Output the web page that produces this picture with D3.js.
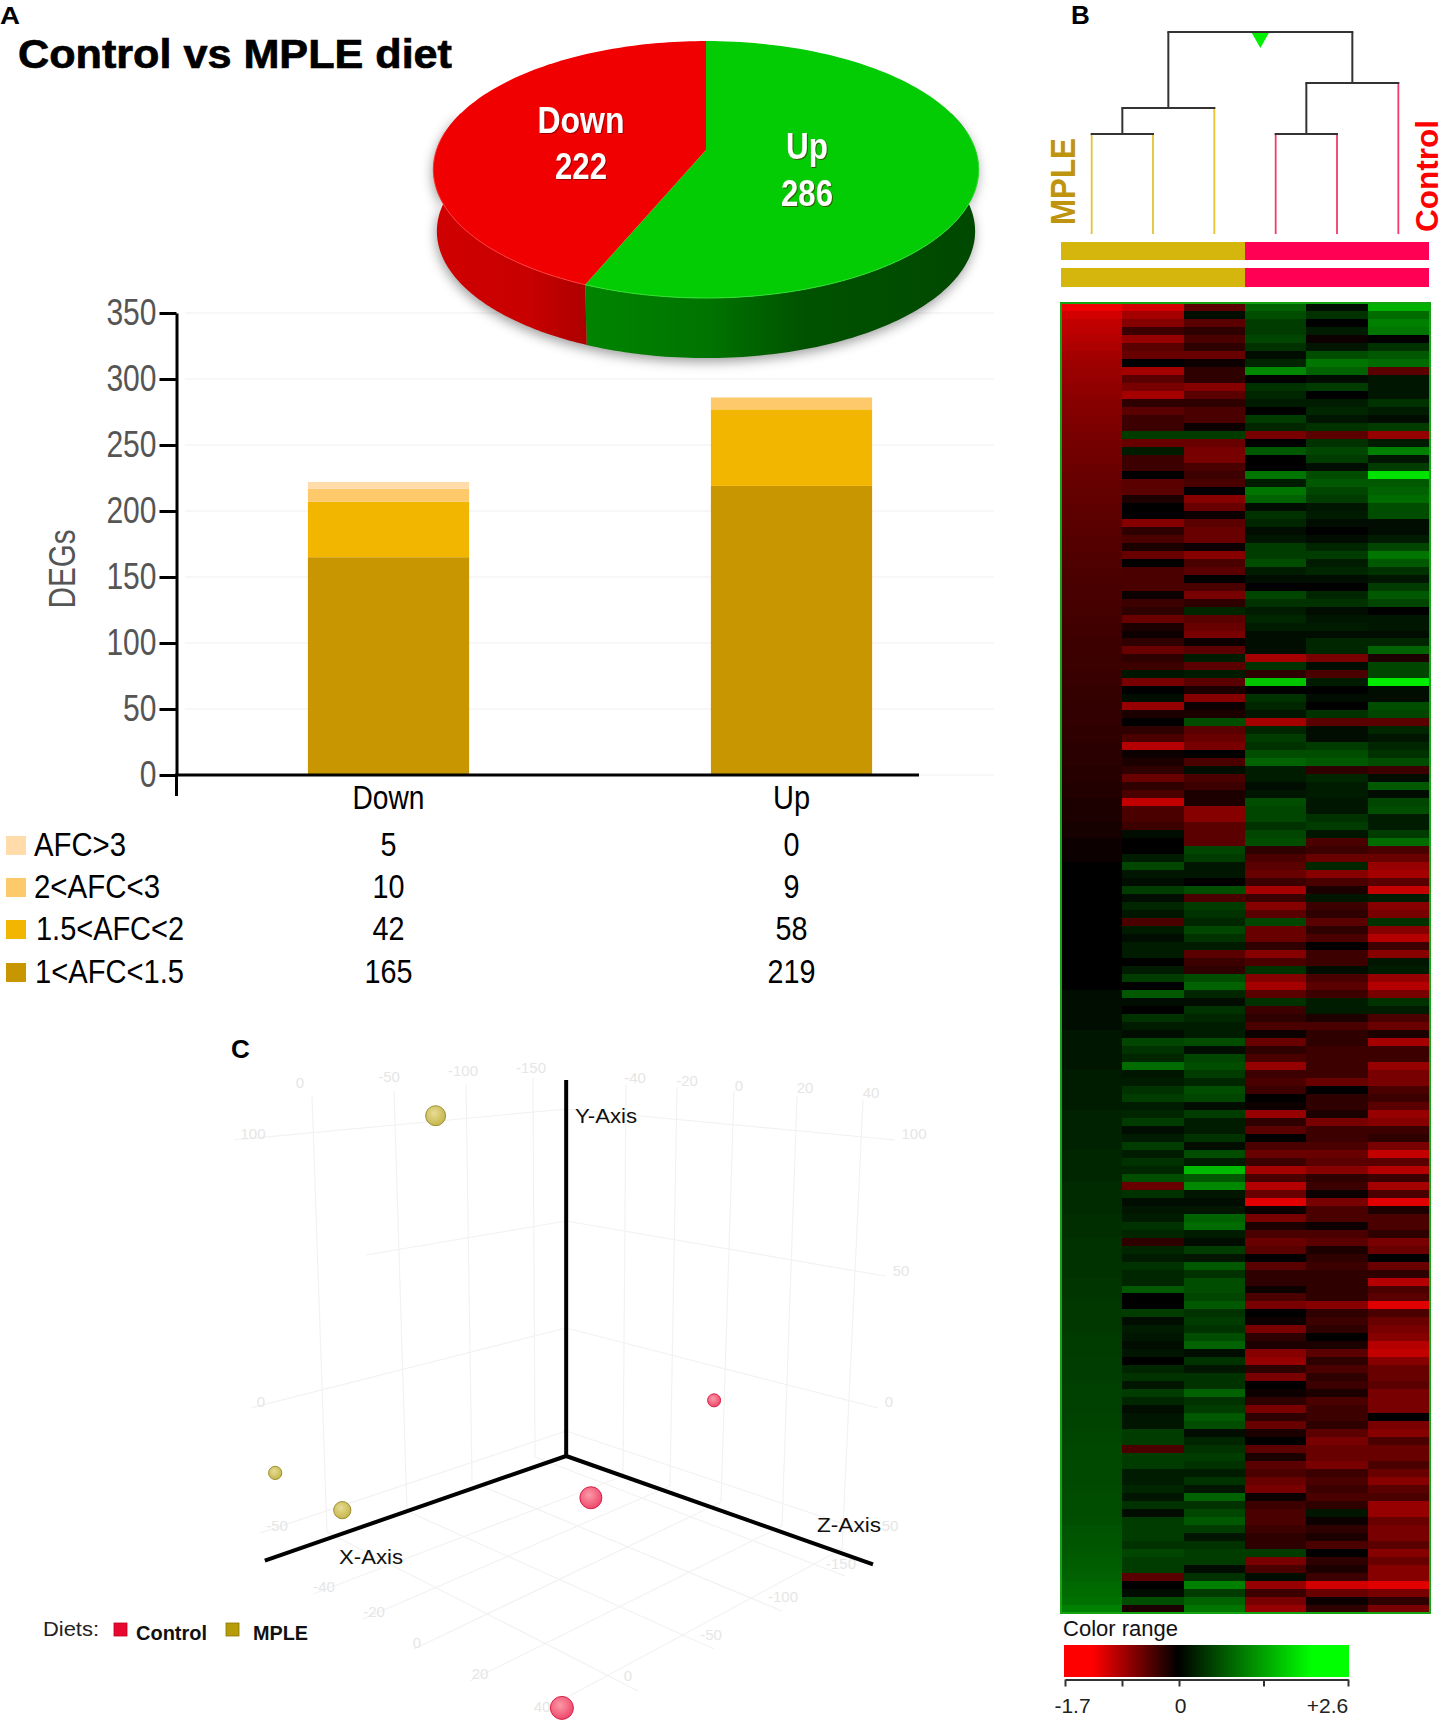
<!DOCTYPE html>
<html><head><meta charset="utf-8">
<style>html,body{margin:0;padding:0;background:#fff}svg{display:block}text{font-family:"Liberation Sans",Arial,sans-serif}</style>
<script src="https://cdn.jsdelivr.net/npm/d3@7"></script>
</head><body><svg id="c" width="1445" height="1727"></svg>
<script>
// ---------- Panel A data ----------
const pieLabels=["Up","Down"];
const pieValues=[286,222];
const barCategories=["Down","Up"];
const afcClasses=["1<AFC<1.5","1.5<AFC<2","2<AFC<3","AFC>3"];
const afcDown=[165,42,10,5];
const afcUp=[219,58,9,0];
const afcColors=["#c89600","#f2b500","#fdc96b","#ffdcaa"];
const yTickValues=[0,50,100,150,200,250,300,350];
// ---------- Panel B data (heat values, tenths of log ratio; red negative, green positive) ----------
const sampleNames=["M1","M2","M3","C1","C2","C3"];
const sampleGroups=["MPLE","MPLE","MPLE","Control","Control","Control"];
const mergeA=[0,6,3,8,7];
const mergeB=[1,2,4,5,9];
const mergeHeight=[.495,.624,.495,.748,1];
const heatM1=[-16,-14,-13,-12.5,-12,-11.5,-11,-10.5,-10.2,-10,-9.6,-9.3,-9,-8.8,-8.5,-8.2,-8,-7.8,-7.6,-7.4,-7.2,-7,-6.8,-6.7,-6.5,-6.3,-6.2,-6,-5.9,-5.7,-5.6,-5.4,-5.3,-5.2,-5,-4.9,-4.8,-4.7,-4.6,-4.4,-4.3,
-4.2,-4.1,-4,-3.9,-3.9,-3.8,-3.7,-3.6,-3.5,-3.4,-3.3,-3.2,-3.1,-3,-2.9,-2.8,-2.7,-2.6,-2.5,-2.3,-2.2,-2,-1.9,-1.7,-1.5,-1.3,-1,-.8,-.5,-.3,0,0,0,0,0,0,0,0,0,0,0,
0,.2,.4,.6,.8,1,1.2,1.4,1.6,1.8,2,2.2,2.3,2.5,2.6,2.8,2.9,3,3.2,3.3,3.4,3.5,3.6,3.7,3.8,3.9,4,4.1,4.2,4.3,4.4,4.5,4.6,4.7,4.8,4.9,5,5,5.1,5.2,5.3,
5.4,5.5,5.6,5.7,5.7,5.8,5.9,6,6,6.1,6.2,6.3,6.4,6.4,6.5,6.6,6.7,6.8,6.9,7,7.1,7.2,7.3,7.4,7.5,7.6,7.8,7.9,8,8.2,8.4,8.6,8.8,9,9.3,9.6,10,10.5,11,11.5,13];
const heatM2=[-14,-11,-9,-4,-10,-6,-7,0,-11,-6,-8,-11,-3,-6,-4,-4,6,-7,3,-4,-4,0,-6,-6,-2,0,0,-9,-3,-5,-2,-7,0,-5,-5,-5,-1,-4,-3,-7,-2,
-1,-3,-7,-3,-4,2,-8,0,1,-10,-2,0,-3,-5,-12,-1,-2,-3,-7,-3,-5,-13,-5,-5,-4,1,0,0,3,7,2,1,6,1,4,2,-5,3,1,3,3,
0,3,6,0,9,1,0,5,3,1,7,5,4,11,2,3,5,6,3,4,6,1,3,6,3,5,4,8,-7,5,1,2,3,5,4,-3,4,3,5,4,4,
9,0,0,6,1,3,2,1,2,0,4,5,2,6,4,1,2,2,6,6,-5,6,6,3,3,4,2,5,1,6,6,6,5,7,6,6,-6,0,1,8,-2];
const heatM3=[-6,1,-6,-3,-5,-3,-7,-1,-3,-3,-9,-6,-3,-5,-5,-1,6,-7,-8,-8,-5,-4,-5,0,-9,-7,-1,-6,-7,-7,-1,-9,-5,-6,0,-5,-8,-3,4,-6,-7,
-8,-1,-6,3,-6,3,-6,-2,-9,-1,-2,8,-6,-7,-8,0,-5,1,-5,-4,-2,-2,-9,-9,-6,-6,-6,7,6,2,2,0,8,-5,6,5,4,7,5,3,-6,
-4,-3,8,10,4,1,5,4,3,3,8,1,7,8,6,4,8,7,1,6,3,3,5,1,8,3,19,9,14,2,1,2,10,11,3,1,6,2,9,5,8,
8,7,9,5,6,5,8,10,1,5,2,5,5,10,5,6,9,8,1,4,5,6,5,3,5,2,10,5,7,9,6,2,5,6,6,1,5,13,6,10,12];
const heatC1=[10,8,6,6,7,5,1,4,14,0,5,4,3,0,6,4,-8,0,9,0,0,12,3,12,10,1,5,4,1,2,6,6,8,3,1,0,7,5,3,4,3,
1,1,1,-11,5,-3,20,0,5,4,2,-11,4,6,5,8,10,3,3,1,2,8,7,7,5,7,8,-3,-5,-6,-7,-4,-11,-4,-9,-6,7,-7,-7,-3,-9,
-5,5,-9,-11,-6,5,-4,-3,-5,-1,-7,-3,-5,-10,-4,-5,-4,0,-1,-10,-3,-6,0,-5,-7,-4,-11,-5,-12,-7,-15,-1,-8,-2,-5,-7,-6,0,-6,-3,-3,
-1,-5,-8,0,-1,-8,-3,-2,-9,-10,-3,-8,0,-1,-3,-8,-3,-7,-2,0,-6,-2,-6,-5,-7,-8,-1,-4,-5,-5,-4,-3,-3,6,-8,-5,1,-10,-4,-8,-10];
const heatC2=[1,5,0,3,-1,2,8,12,10,1,6,0,3,4,2,5,-6,5,7,6,1,8,9,7,6,2,3,1,0,1,4,6,3,4,1,0,4,5,1,2,3,
1,4,4,-8,1,-5,3,0,1,0,5,-6,1,1,6,8,9,-3,4,3,3,2,2,5,6,2,-5,-4,-7,4,-9,-5,-2,2,-4,-3,-6,-3,-5,0,-4,
-4,1,-5,-6,-4,3,3,-2,-5,-3,-3,-4,-4,-4,-4,-7,0,-3,-3,-2,-8,-4,-4,-5,-7,-6,-9,-3,-4,-1,-8,-5,-5,-1,-5,-6,-2,-3,-4,-3,-3,
-3,-3,-9,-3,-4,-3,0,-2,-6,-3,-5,-3,-4,-2,-5,-4,-4,-3,-6,-8,-7,-7,-8,-4,-5,-4,-5,-3,2,-1,-3,-2,-5,0,-3,-2,-4,-14,-7,-1,-3];
const heatC3=[18,11,13,12,0,5,9,11,-6,2,2,2,5,3,1,6,-10,3,13,2,6,23,9,10,11,8,8,1,1,3,7,12,9,5,2,6,9,7,0,2,2,
1,4,10,-2,7,7,24,1,1,8,7,-6,4,2,4,5,8,-4,1,9,1,7,8,3,3,6,11,-5,-7,-10,-11,-6,-13,3,-9,-8,5,-9,-12,-4,-9,
2,3,-10,-12,-8,5,3,-5,-7,-2,-11,-4,-4,-10,-8,-8,-5,-4,-6,-10,-9,-4,-3,-8,-13,-6,-12,-4,-11,-5,-15,-2,-5,-5,-3,-8,-7,0,-7,-3,-12,
-5,-6,-15,-5,-7,-8,-9,-12,-13,-9,-7,-7,-6,-8,-8,-8,0,-8,-9,-5,-7,-7,-5,-7,-9,-6,-5,-10,-10,-7,-8,-8,-6,-9,-7,-9,-9,-15,-8,-3,-8];
const heatColumns=[heatM1,heatM2,heatM3,heatC1,heatC2,heatC3];
const colorStops=[-17,0,26];
const colorTicks=[-1.7,-.85,0,1.3,2.6];
const colorTickLabels=["-1.7","","0","","+2.6"];
// ---------- Panel C data (projected plot units) ----------
const scatterGroup=["MPLE","MPLE","MPLE","Control","Control","Control"];
const scatterU=[-43.4,-96,-74,47.9,7.5,-2];
const scatterV=[90.5,-4.5,-14.4,14.8,-11.1,-67];
const scatterSize=[10,6.6,8.6,6.5,11,11.5];
const wallXTicks=[0,-50,-100,-150];
const wallZTicks=[-40,-20,0,20,40];
const wallYTicks=[100,50,0,-50];
const floorXTicks=[0,-50,-100,-150];
const floorZTicks=[40,20,0,-20,-40];
const legendDiets=["Control","MPLE"];

const svg=d3.select("#c"), defs=svg.append("defs");
function txt(str,x,y,size,o={}){
  const t=svg.append("text").text(str).attr("x",x).attr("y",y).attr("font-size",size)
    .attr("font-weight",o.weight||"normal").attr("fill",o.fill||"#000").attr("text-anchor",o.anchor||"start");
  if(o.width){t.attr("textLength",o.width).attr("lengthAdjust","spacingAndGlyphs");}
  if(o.rotate!==undefined){t.attr("transform",`rotate(${o.rotate} ${x} ${y})`);}
  if(o.shadow){t.attr("style","filter:drop-shadow(1px 1px 0.6px rgba(90,0,0,.55))");}
  if(o.heavy){t.attr("stroke",o.fill||"#000").attr("stroke-width",o.heavy);}
  return t;
}
txt("A",0,24,24,{weight:"bold",width:20});
txt("B",1071,24,26,{weight:"bold"});
txt("C",231,1058,26,{weight:"bold"});
txt("Control vs MPLE diet",18,68,41,{weight:"bold",width:434,heavy:.7});

// ---------- Bar chart ----------
const yS=d3.scaleLinear().domain([0,350]).range([775,313]);
const xS=d3.scaleBand().domain(barCategories).range([187,993]).paddingInner(.6).paddingOuter(.3);
svg.append("g").selectAll("line").data(yTickValues).join("line")
  .attr("x1",185).attr("x2",994).attr("y1",d=>yS(d)).attr("y2",d=>yS(d)).attr("stroke","#f0f0f0").attr("stroke-width",1.2);
const stacked=d3.stack().keys(afcClasses)(barCategories.map(c=>{
  const src=c==="Down"?afcDown:afcUp, r={cat:c};
  afcClasses.forEach((k,i)=>r[k]=src[i]); return r;}));
const barG=svg.append("g");
stacked.forEach((s,i)=>{
  barG.selectAll(null).data(s).join("rect")
   .attr("x",d=>xS(d.data.cat)).attr("width",xS.bandwidth())
   .attr("y",d=>yS(d[1])).attr("height",d=>yS(d[0])-yS(d[1])).attr("fill",afcColors[i]);
});
const axL=svg.append("g").attr("transform","translate(176.5,0)")
  .call(d3.axisLeft(yS).tickValues(yTickValues).tickSize(17).tickSizeOuter(0).tickPadding(3));
axL.select(".domain").attr("stroke","#000").attr("stroke-width",3);
axL.selectAll("line").attr("stroke","#000").attr("stroke-width",3);
axL.selectAll("text").attr("font-family",'"Liberation Sans"').attr("font-size",36).attr("fill","#555")
  .attr("textLength",function(d){return String(d).length*16.7}).attr("lengthAdjust","spacingAndGlyphs");
svg.append("line").attr("x1",176.5).attr("x2",176.5).attr("y1",yS(0)).attr("y2",796).attr("stroke","#000").attr("stroke-width",3);
svg.append("line").attr("x1",175).attr("x2",919).attr("y1",yS(0)).attr("y2",yS(0)).attr("stroke","#000").attr("stroke-width",3);
txt("DEGs",75,569,36,{fill:"#555",anchor:"middle",rotate:-90,width:79});
const cx=d=>xS(d)+xS.bandwidth()/2;
barCategories.forEach(c=>txt(c,cx(c),809,34,{anchor:"middle",width:c==="Down"?72:37}));
// table legend
const tableRows=[3,2,1,0], tableY=[856,898,940,983], labelW=[92,126,148,149], labelX=[34,34,36,35];
tableRows.forEach((k,r)=>{
  svg.append("rect").attr("x",6).attr("y",tableY[r]-20).attr("width",20).attr("height",19).attr("fill",afcColors[k]);
  txt(afcClasses[k],labelX[r],tableY[r],34,{width:labelW[r]});
  [afcDown[k],afcUp[k]].forEach((v,j)=>{
    txt(String(v),cx(barCategories[j]),tableY[r],34,{anchor:"middle",width:String(v).length*16});
  });
});

// ---------- 3D pie ----------
const pieArcs=d3.pie().sort(null).startAngle(0).endAngle(2*Math.PI)(pieValues);
const split=pieArcs[0].endAngle;
const P={cx:706,cy:150,rx:269.5,ry:125.5,p:.152};
function rim(t,k=1,dy=0){const u=Math.sin(t),v=-Math.cos(t),w=1-P.p*v;
  return [P.cx+k*P.rx*u/w,P.cy+k*P.ry*v/w+dy];}
const line=d3.line();
const angs=(a,b)=>d3.range(0,121).map(i=>a+(b-a)*i/120);
function grad(id,x1,x2,stops){const g=defs.append("linearGradient").attr("id",id).attr("gradientUnits","userSpaceOnUse")
  .attr("x1",x1).attr("x2",x2).attr("y1",0).attr("y2",0);
  stops.forEach(s=>g.append("stop").attr("offset",s[0]).attr("stop-color",s[1]));}
grad("gs",590,980,[[0,"#008400"],[.3,"#007400"],[.55,"#005200"],[1,"#004800"]]);
grad("rs",436,590,[[0,"#d00000"],[.6,"#c80000"],[1,"#ac0000"]]);
const side=(a,b)=>line([...angs(a,b).map(t=>rim(t)),...angs(b,a).map(t=>rim(t,.987,62))])+"Z";
const pieG=svg.append("g");
const sides=pieG.append("g").style("filter","drop-shadow(-1px 4px 6px rgba(0,0,0,.38))");
sides.append("path").attr("d",side(Math.PI*.4,split)).attr("fill","url(#gs)");
sides.append("path").attr("d",side(split,Math.PI*1.6)).attr("fill","url(#rs)");
pieArcs.forEach((a,i)=>{
  pieG.append("path").attr("fill",pieLabels[i]==="Up"?"#04cc04":"#f00000")
   .attr("d",line([[P.cx,P.cy],...angs(a.startAngle,a.endAngle).map(t=>rim(t))])+"Z");
});
pieG.append("path").attr("fill","none").attr("stroke","#ff3a3a").attr("stroke-width",1).attr("d",line(angs(split,Math.PI*1.55).map(t=>rim(t))));
pieG.append("path").attr("fill","none").attr("stroke","#30e030").attr("stroke-width",1).attr("d",line(angs(Math.PI*.45,split).map(t=>rim(t))));
txt(pieLabels[1],581,133,37,{weight:"bold",fill:"#fff",anchor:"middle",width:87,shadow:1});
txt(String(pieValues[1]),581,179,37,{weight:"bold",fill:"#fff",anchor:"middle",width:52,shadow:1});
txt(pieLabels[0],807,159,37,{weight:"bold",fill:"#fff",anchor:"middle",width:42,shadow:1});
txt(String(pieValues[0]),807,206,37,{weight:"bold",fill:"#fff",anchor:"middle",width:52,shadow:1});

// ---------- Panel B ----------
const xH=d3.scaleBand().domain(sampleNames).range([1061,1429]);
const nRows=heatM1.length;
const yH=d3.scaleBand().domain(d3.range(nRows)).range([303,1613]);
const hc=d3.scaleLinear().domain(colorStops).range(["#ff0000","#000000","#00ff00"]).clamp(true);
const blur=defs.append("filter").attr("id","bl").attr("x","-1%").attr("y","-1%").attr("width","102%").attr("height","102%");
blur.append("feGaussianBlur").attr("stdDeviation","0 0.7");
const heatG=svg.append("g").attr("filter","url(#bl)");
heatColumns.forEach((col,c)=>{
  heatG.append("g").selectAll("rect").data(col).join("rect").attr("shape-rendering","crispEdges")
   .attr("x",xH(sampleNames[c])).attr("width",xH.bandwidth()+1)
   .attr("y",(d,i)=>yH(i)).attr("height",yH.bandwidth()+1).attr("fill",d=>hc(d));
});
svg.append("rect").attr("x",1061).attr("y",303).attr("width",369).attr("height",1310)
  .attr("fill","none").attr("stroke","#12a412").attr("stroke-width",2);
const groupColor={MPLE:"#d4b60c",Control:"#ff0055"};
const groupExtent=d3.rollups(sampleNames,v=>[xH(v[0]),xH(v[v.length-1])+xH.bandwidth()],(d)=>sampleGroups[sampleNames.indexOf(d)]);
[[242,18],[268,19]].forEach(b=>{
  svg.append("g").selectAll("rect").data(groupExtent).join("rect")
   .attr("x",d=>d[1][0]).attr("width",d=>d[1][1]-d[1][0]).attr("y",b[0]).attr("height",b[1])
   .attr("fill",d=>groupColor[d[0]]);
});
// dendrogram
const hS=d3.scaleLinear().domain([0,1]).range([234,32]);
const nodes=sampleNames.map((n,i)=>({x:xH(n)+xH.bandwidth()/2,h:0,leaf:true,g:sampleGroups[i]}));
const dG=svg.append("g").attr("fill","none");
mergeA.forEach((a,i)=>{
  const A=nodes[a],B=nodes[mergeB[i]],h=mergeHeight[i];
  [A,B].forEach(n=>dG.append("line").attr("x1",n.x).attr("x2",n.x).attr("y1",hS(n.h)).attr("y2",hS(h))
    .attr("stroke",n.leaf?(n.g==="MPLE"?"#e4c334":"#f23a6e"):"#333").attr("stroke-width",n.leaf?1.8:2));
  dG.append("line").attr("x1",A.x-1).attr("x2",B.x+1).attr("y1",hS(h)).attr("y2",hS(h)).attr("stroke","#333").attr("stroke-width",2);
  nodes.push({x:(A.x+B.x)/2,h});
});
const rootX=nodes[nodes.length-1].x;
svg.append("path").attr("d",line([[rootX-8.5,33],[rootX+8.5,33],[rootX,48]])+"Z").attr("fill","#00f000");
txt("MPLE",1075,225,35,{weight:"bold",fill:"#bf9510",rotate:-90,width:87});
txt("Control",1437.5,232,32,{weight:"bold",fill:"#ff0000",rotate:-90,width:112});
// colour range
txt("Color range",1063,1636,22,{fill:"#111",width:115});
const xC=d3.scaleLinear().domain([colorTicks[0],colorTicks[2],colorTicks[4]]).range([1065,1179,1348]);
const cg=defs.append("linearGradient").attr("id","cr");
[[0,"#ff0000"],[.1,"#ff0000"],[.4,"#000000"],[.87,"#00ff00"],[1,"#00ff00"]].forEach(s=>cg.append("stop").attr("offset",s[0]).attr("stop-color",s[1]));
svg.append("rect").attr("x",1064).attr("y",1645).attr("width",285).attr("height",32).attr("fill","url(#cr)");
const axC=svg.append("g").attr("transform","translate(0,1679.5)")
  .call(d3.axisBottom(xC).tickValues(colorTicks).tickSize(7).tickSizeOuter(0).tickPadding(10)
   .tickFormat((d,i)=>colorTickLabels[i]));
axC.select(".domain").attr("stroke","#333").attr("stroke-width",2);
axC.selectAll("line").attr("stroke","#333").attr("stroke-width",2);
axC.selectAll("text").attr("font-family",'"Liberation Sans"').attr("font-size",21).attr("fill","#222")
  .attr("dy",0).attr("y",33.5).attr("dx",(d,i)=>i===0?7:i===4?-21:1);

// ---------- Panel C ----------
const wall=(dom,rng)=>d3.scaleLinear().domain(dom).range(rng);
const gridG=svg.append("g").attr("stroke","#f2f2f2").attr("stroke-width",1.2).attr("fill","none").attr("transform","translate(-2,-1)");
const seg=(a,b)=>gridG.append("path").attr("d",line([a,b]));
const lwTop=wall(wallXTicks,[[314,1097],[396,1092],[468,1086],[535,1079]]);
const lwBot=wall(wallXTicks,[[329,1533],[409,1512],[474,1483],[537,1458]]);
wallXTicks.forEach(v=>seg(lwTop(v),lwBot(v)));
const rwTop=wall(wallZTicks,[[628,1086],[679,1088],[736,1092],[799,1097],[865,1101]]);
const rwBot=wall(wallZTicks,[[625,1477],[672,1487],[723,1503],[784,1527],[844,1550]]);
wallZTicks.forEach(v=>seg(rwTop(v),rwBot(v)));
const yLeft=wall(wallYTicks,[[236,1141],[368,1256],[253,1409],[262,1534]]);
const yMid=wall(wallYTicks,[[568,1110],[568,1222],[568,1329],[568,1432]]);
const yRight=wall(wallYTicks,[[897,1141],[887,1277],[880,1409],[873,1534]]);
wallYTicks.forEach(v=>{seg(yLeft(v),yMid(v));seg(yMid(v),yRight(v));});
const fA=wall(floorXTicks,[[329,1533],[409,1512],[474,1483],[537,1458]]);
const fA2=wall(floorXTicks,[[640,1692],[716,1650],[784,1612],[847,1577]]);
floorXTicks.forEach(v=>seg(fA(v),fA2(v)));
const fB=wall(floorZTicks,[[566,1700],[472,1682],[416,1650],[365,1620],[315,1595]]);
const fB2=wall(floorZTicks,[[844,1550],[784,1527],[723,1503],[672,1487],[625,1477]]);
floorZTicks.forEach(v=>seg(fB(v),fB2(v)));
const faint=(str,p)=>txt(str,p[0]-2,p[1]+4,15,{fill:"#e6e6e6",anchor:"middle"});
const lbX=wall(wallXTicks,[[302,1084],[391,1078],[465,1072],[533,1069]]);
wallXTicks.forEach(v=>faint(String(v),lbX(v)));
const lbZ=wall(wallZTicks,[[637,1079],[689,1082],[741,1087],[807,1089],[873,1094]]);
wallZTicks.forEach(v=>faint(String(v),lbZ(v)));
const lbYL=wall([100,0,-50],[[255,1135],[263,1403],[279,1527]]);
[100,0,-50].forEach(v=>faint(String(v),lbYL(v)));
const lbYR=wall(wallYTicks,[[916,1135],[903,1272],[891,1403],[892,1527]]);
wallYTicks.forEach(v=>faint(String(Math.abs(v)),lbYR(v)));
const lbF=wall(floorZTicks,[[544,1708],[482,1675],[419,1644],[376,1613],[326,1588]]);
floorZTicks.forEach(v=>faint(String(v),lbF(v)));
const lbF2=wall(floorXTicks,[[630,1677],[713,1636],[785,1598],[843,1565]]);
floorXTicks.forEach(v=>faint(String(v),lbF2(v)));

const uS=d3.scaleLinear().domain([-100,100]).range([263,873]);
const vS=d3.scaleLinear().domain([-100,100]).range([1832,1080]);
const origin=[-.6,0];
[[-99.4,-27.8],[0,100],[100,-28.8]].forEach(e=>{
  svg.append("line").attr("x1",uS(origin[0])).attr("y1",vS(origin[1])).attr("x2",uS(e[0]===0?origin[0]:e[0])).attr("y2",vS(e[1]))
   .attr("stroke","#000").attr("stroke-width",4);
});
txt("Y-Axis",575,1123,20,{fill:"#111",width:62});
txt("X-Axis",339,1564,20,{fill:"#111",width:64});
txt("Z-Axis",817,1532,20,{fill:"#111",width:64});
function ball(id,c1,c2){const g=defs.append("radialGradient").attr("id",id).attr("cx",.42).attr("cy",.38).attr("r",.65);
  g.append("stop").attr("offset",0).attr("stop-color",c1);g.append("stop").attr("offset",1).attr("stop-color",c2);}
ball("bM","#e6dc94","#c4b448");ball("bC","#fb9aa8","#ee4468");
svg.append("g").selectAll("circle").data(scatterU).join("circle")
  .attr("cx",d=>uS(d)).attr("cy",(d,i)=>vS(scatterV[i])).attr("r",(d,i)=>scatterSize[i])
  .attr("fill",(d,i)=>scatterGroup[i]==="MPLE"?"url(#bM)":"url(#bC)")
  .attr("stroke",(d,i)=>scatterGroup[i]==="MPLE"?"#9c8e30":"#d81f48").attr("stroke-width",1);
txt("Diets:",43,1636,20,{fill:"#222",width:56});
const legX=[114,226], legTx=[136,253], legW=[71,55], legC=["#e8082f","#b59c08"], legS=["#c00020","#8a7606"];
legendDiets.forEach((n,i)=>{
  svg.append("rect").attr("x",legX[i]).attr("y",1623).attr("width",13).attr("height",13).attr("fill",legC[i]).attr("stroke",legS[i]).attr("stroke-width",.8);
  txt(n,legTx[i],1640,20,{weight:"bold",fill:"#111",width:legW[i]});
});
</script></body></html>
